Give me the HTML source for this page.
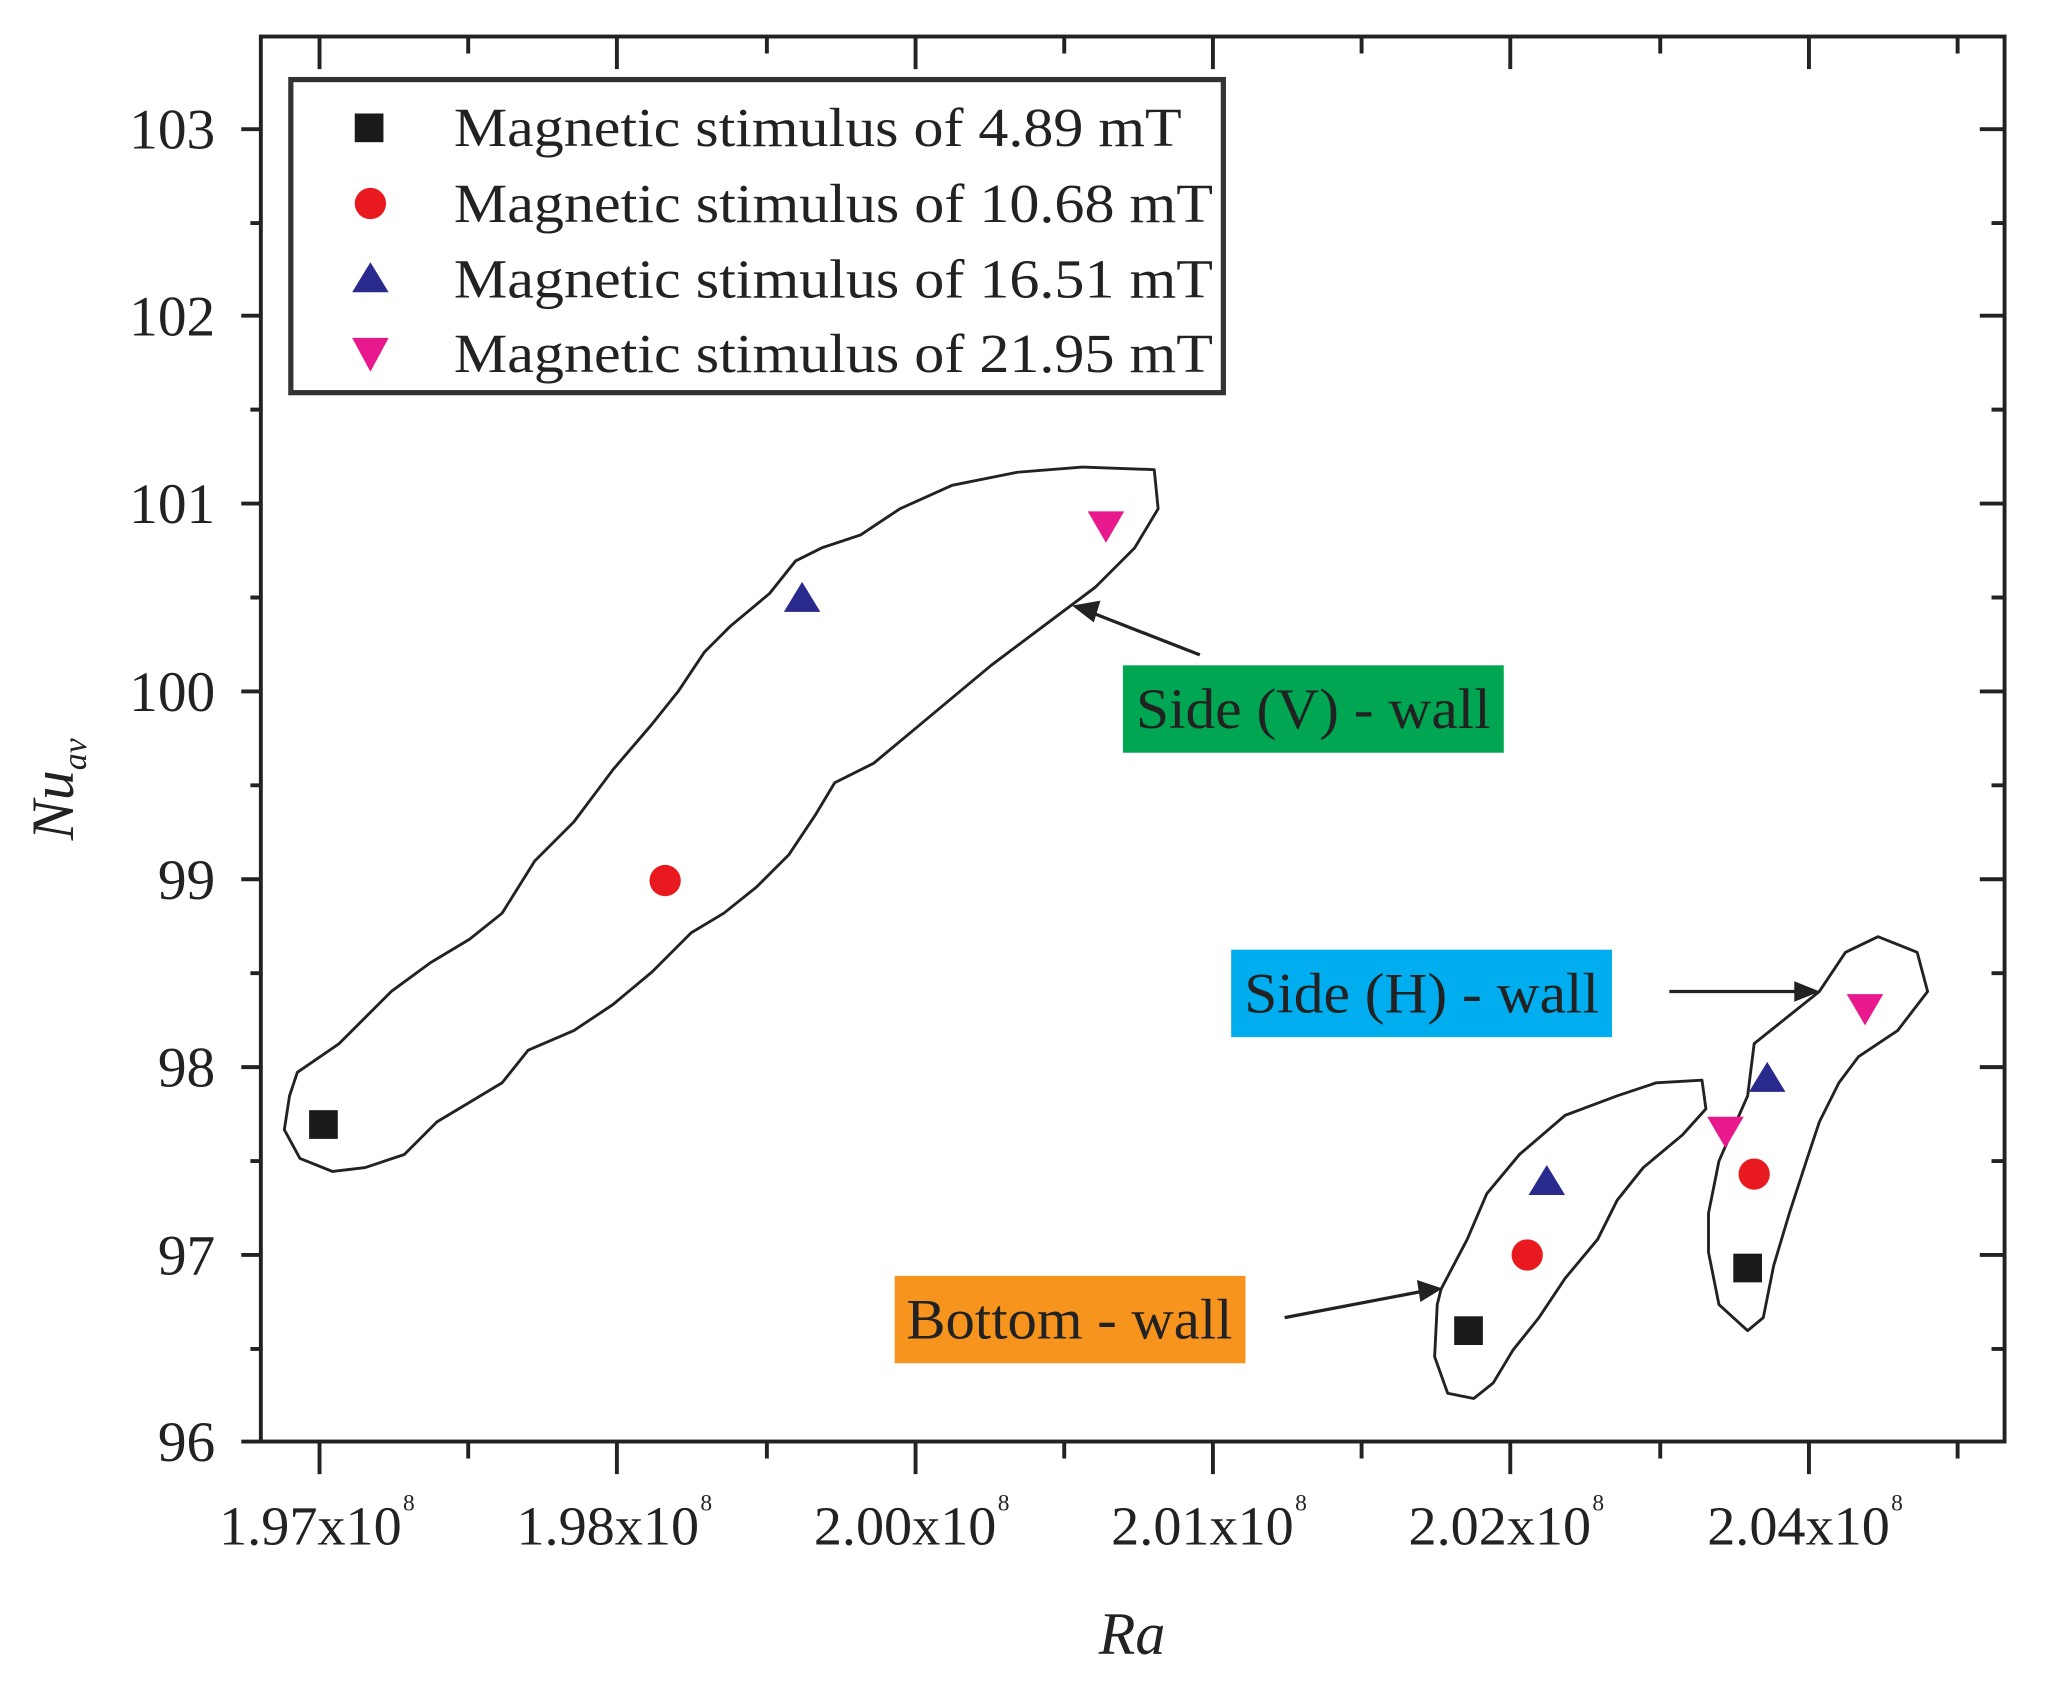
<!DOCTYPE html>
<html><head><meta charset="utf-8"><style>html,body{margin:0;padding:0;background:#fff}svg{display:block}</style></head>
<body>
<svg width="2045" height="1692" viewBox="0 0 1568 1297" preserveAspectRatio="none" xmlns="http://www.w3.org/2000/svg" font-family="'Liberation Serif', serif">
<rect width="1568" height="1297" fill="#fff"/>
<rect x="200" y="28" width="1337" height="1077" fill="none" stroke="#222" stroke-width="3"/>
<g stroke="#222" stroke-width="3">
<path d="M185 99H200M185 242H200M185 386H200M185 530H200M185 674H200M185 818H200M185 962H200M185 1105H200"/>
<path d="M192 171H200M192 314H200M192 458H200M192 602H200M192 746H200M192 890H200M192 1034H200"/>
<path d="M1537 99H1518M1537 242H1518M1537 386H1518M1537 530H1518M1537 674H1518M1537 818H1518M1537 962H1518"/>
<path d="M1537 171H1527M1537 314H1527M1537 458H1527M1537 602H1527M1537 746H1527M1537 890H1527M1537 1034H1527"/>
<path d="M245 1105V1130M473 1105V1130M702 1105V1130M930 1105V1130M1158 1105V1130M1387 1105V1130"/>
<path d="M359 1105V1118M588 1105V1118M816 1105V1118M1044 1105V1118M1273 1105V1118M1501 1105V1118"/>
<path d="M245 28V53M473 28V53M702 28V53M930 28V53M1158 28V53M1387 28V53"/>
<path d="M359 28V41M588 28V41M816 28V41M1044 28V41M1273 28V41M1501 28V41"/>
</g>
<g font-size="44" fill="#222" text-anchor="end">
<text x="165" y="114">103</text><text x="165" y="257">102</text><text x="165" y="401">101</text>
<text x="165" y="545">100</text><text x="165" y="689">99</text><text x="165" y="833">98</text>
<text x="165" y="977">97</text><text x="165" y="1120">96</text>
</g>
<g font-size="42" fill="#222">
<text x="168" y="1184" textLength="140" lengthAdjust="spacingAndGlyphs">1.97x10</text><text x="309" y="1158" font-size="18">8</text>
<text x="396" y="1184" textLength="140" lengthAdjust="spacingAndGlyphs">1.98x10</text><text x="537" y="1158" font-size="18">8</text>
<text x="624" y="1184" textLength="140" lengthAdjust="spacingAndGlyphs">2.00x10</text><text x="765" y="1158" font-size="18">8</text>
<text x="852" y="1184" textLength="140" lengthAdjust="spacingAndGlyphs">2.01x10</text><text x="993" y="1158" font-size="18">8</text>
<text x="1080" y="1184" textLength="140" lengthAdjust="spacingAndGlyphs">2.02x10</text><text x="1221" y="1158" font-size="18">8</text>
<text x="1309" y="1184" textLength="140" lengthAdjust="spacingAndGlyphs">2.04x10</text><text x="1450" y="1158" font-size="18">8</text>
</g>
<text x="868" y="1268" font-size="46" font-style="italic" text-anchor="middle" fill="#222">Ra</text>
<text transform="translate(56,605) rotate(-90)" font-size="46" font-style="italic" fill="#222" text-anchor="middle">Nu<tspan font-size="26" dy="10">av</tspan></text>
<rect x="223" y="61" width="715" height="240" fill="#fff" stroke="#333" stroke-width="4"/>
<rect x="272" y="87" width="22" height="22" fill="#1a1a1a"/>
<circle cx="284" cy="156" r="12" fill="#e8191f"/>
<path d="M270 224L284 201L298 224Z" fill="#2a2a8c"/>
<path d="M270 259L298 259L284 285Z" fill="#e8198c"/>
<g font-size="42" fill="#222">
<text x="348" y="112" textLength="558" lengthAdjust="spacingAndGlyphs">Magnetic stimulus of 4.89 mT</text>
<text x="348" y="170" textLength="582" lengthAdjust="spacingAndGlyphs">Magnetic stimulus of 10.68 mT</text>
<text x="348" y="228" textLength="582" lengthAdjust="spacingAndGlyphs">Magnetic stimulus of 16.51 mT</text>
<text x="348" y="285" textLength="582" lengthAdjust="spacingAndGlyphs">Magnetic stimulus of 21.95 mT</text>
</g>
<g fill="none" stroke="#222" stroke-width="2.2" stroke-linejoin="round">
<path d="M228 822L260 800L300 760L330 738L360 720L385 700L410 660L440 630L470 590L500 555L520 530L540 500L560 480L590 455L610 430L630 420L660 410L690 390L730 372L780 362L830 358L885 360L888 390L870 420L840 450L800 480L760 510L730 535L700 560L670 585L640 600L625 625L605 655L580 680L555 700L530 715L500 745L470 770L440 790L405 805L385 830L360 845L335 860L310 885L280 895L255 898L230 888L218 866L222 840Z"/>
<path d="M1105 988L1125 950L1140 915L1165 885L1200 855L1240 840L1270 830L1305 828L1308 850L1290 870L1260 895L1240 920L1225 950L1200 980L1180 1010L1160 1035L1145 1060L1130 1072L1110 1068L1100 1040L1102 1000Z"/>
<path d="M1310 930L1318 890L1340 840L1345 800L1370 780L1395 760L1415 730L1440 718L1470 730L1478 760L1455 790L1425 810L1410 830L1395 860L1385 890L1372 930L1360 970L1352 1010L1340 1020L1318 1000L1310 960Z"/>
</g>
<g>
<rect x="237" y="851" width="22" height="22" fill="#1a1a1a"/>
<circle cx="510" cy="675" r="12" fill="#e8191f"/>
<path d="M601 469L615 446L629 469Z" fill="#2a2a8c"/>
<path d="M834 392L862 392L848 416Z" fill="#e8198c"/>
<rect x="1115" y="1009" width="22" height="22" fill="#1a1a1a"/>
<circle cx="1171" cy="962" r="12" fill="#e8191f"/>
<path d="M1172 916L1186 893L1200 916Z" fill="#2a2a8c"/>
<path d="M1309 856L1337 856L1323 880Z" fill="#e8198c"/>
<rect x="1329" y="961" width="22" height="22" fill="#1a1a1a"/>
<circle cx="1345" cy="900" r="12" fill="#e8191f"/>
<path d="M1341 837L1355 814L1369 837Z" fill="#2a2a8c"/>
<path d="M1416 762L1444 762L1430 786Z" fill="#e8198c"/>
</g>
<rect x="861" y="510" width="292" height="67" fill="#00a651"/>
<text x="1007" y="558" font-size="44" fill="#222" text-anchor="middle" textLength="272" lengthAdjust="spacingAndGlyphs">Side (V) - wall</text>
<rect x="944" y="728" width="292" height="67" fill="#00aeef"/>
<text x="1090" y="776" font-size="44" fill="#222" text-anchor="middle" textLength="272" lengthAdjust="spacingAndGlyphs">Side (H) - wall</text>
<rect x="686" y="978" width="269" height="67" fill="#f7941d"/>
<text x="820" y="1026" font-size="44" fill="#222" text-anchor="middle" textLength="250" lengthAdjust="spacingAndGlyphs">Bottom - wall</text>
<g stroke="#222" stroke-width="2.5" fill="#222">
<path d="M920 502L838 470" fill="none"/><path d="M825 465L842 462L838 475Z"/>
<path d="M1280 760L1378 760" fill="none"/><path d="M1392 760L1377 754L1377 766Z"/>
<path d="M985 1010L1090 990" fill="none"/><path d="M1103 988L1088 983L1090 996Z"/>
</g>
</svg>
</body></html>
